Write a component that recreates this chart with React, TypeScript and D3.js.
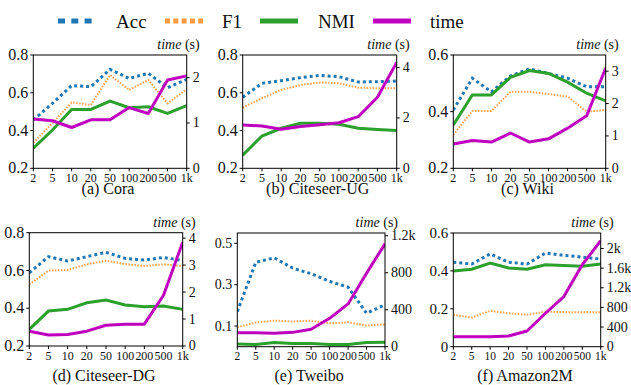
import * as d3 from 'd3'

// x categories (number of clusters / samples)
const xLabels = ['2', '5', '10', '20', '50', '100', '200', '500', '1k']

const coraAcc = [0.456, 0.544, 0.638, 0.632, 0.724, 0.676, 0.703, 0.627, 0.671]
const coraF1 = [0.336, 0.44, 0.549, 0.535, 0.694, 0.615, 0.668, 0.544, 0.618]
const coraNmi = [0.306, 0.403, 0.512, 0.512, 0.556, 0.521, 0.526, 0.491, 0.532]
const coraTime = [1.09, 1.05, 0.9, 1.07, 1.07, 1.34, 1.21, 1.95, 2.04]

const citeUgAcc = [0.576, 0.65, 0.664, 0.68, 0.692, 0.685, 0.657, 0.659, 0.662]
const citeUgF1 = [0.521, 0.571, 0.615, 0.641, 0.655, 0.65, 0.627, 0.624, 0.624]
const citeUgNmi = [0.27, 0.371, 0.412, 0.438, 0.438, 0.433, 0.412, 0.406, 0.4]
const citeUgTime = [1.72, 1.68, 1.55, 1.66, 1.73, 1.81, 2.05, 2.82, 4.2]

const wikiAcc = [0.406, 0.518, 0.47, 0.526, 0.551, 0.535, 0.518, 0.488, 0.488]
const wikiF1 = [0.318, 0.402, 0.402, 0.47, 0.47, 0.462, 0.453, 0.4, 0.406]
const wikiNmi = [0.353, 0.459, 0.459, 0.521, 0.545, 0.535, 0.504, 0.465, 0.438]
const wikiTime = [0.75, 0.86, 0.81, 1.09, 0.81, 0.91, 1.24, 1.62, 3.1]

const citeDgAcc = [0.588, 0.673, 0.65, 0.673, 0.696, 0.664, 0.655, 0.669, 0.652]
const citeDgF1 = [0.526, 0.599, 0.603, 0.632, 0.652, 0.634, 0.624, 0.632, 0.624]
const citeDgNmi = [0.288, 0.385, 0.394, 0.429, 0.443, 0.417, 0.408, 0.412, 0.394]
const citeDgTime = [0.55, 0.41, 0.43, 0.55, 0.77, 0.81, 0.81, 1.88, 3.85]

const tweiboAcc = [0.17, 0.408, 0.43, 0.38, 0.353, 0.316, 0.288, 0.162, 0.203]
const tweiboF1 = [0.094, 0.117, 0.126, 0.122, 0.126, 0.113, 0.118, 0.102, 0.108]
const tweiboNmi = [0.013, 0.011, 0.02, 0.016, 0.016, 0.011, 0.011, 0.02, 0.021]
const tweiboTime = [152, 152, 145, 155, 188, 307, 463, 795, 1113]

const amazonAcc = [0.446, 0.436, 0.49, 0.446, 0.436, 0.494, 0.482, 0.473, 0.462]
const amazonF1 = [0.168, 0.154, 0.189, 0.176, 0.168, 0.185, 0.182, 0.182, 0.182]
const amazonNmi = [0.4, 0.409, 0.441, 0.415, 0.409, 0.432, 0.429, 0.424, 0.436]
const amazonTime = [204, 204, 204, 218, 320, 681, 1021, 1668, 2158]

const captions = ['(a) Cora', '(b) Citeseer-UG', '(c) Wiki', '(d) Citeseer-DG', '(e) Tweibo', '(f) Amazon2M']

const leftTicks = [
  [0.2, 0.4, 0.6, 0.8],
  [0.2, 0.4, 0.6, 0.8],
  [0.2, 0.4, 0.6],
  [0.2, 0.4, 0.6, 0.8],
  [0.1, 0.3, 0.5],
  [0, 0.2, 0.4, 0.6]
]
const rightTicks = [
  [0, 1, 2],
  [0, 2, 4],
  [0, 1, 2, 3],
  [0, 1, 2, 3, 4],
  [0, 400, 800, 1200],
  [0, 400, 800, 1200, 1600, 2000]
]

const FONT = 'Liberation Serif'

const seriesStyle = [
  { name: 'Acc', color: '#1f77b4', width: 3, dash: '3,3', opacity: 1 },
  { name: 'F1', color: '#ff7f0e', width: 2, dash: '1.6,1.4', opacity: 0.7 },
  { name: 'NMI', color: '#2ca02c', width: 3, dash: undefined, opacity: 1 },
  { name: 'time', color: '#bf00bf', width: 3, dash: undefined, opacity: 1 }
]

const legendItems = [
  { x1: 58, x2: 92, tx: 116, dash: '7,6.3' },
  { x1: 165, x2: 203, tx: 222, dash: '5,3.3' },
  { x1: 260, x2: 298, tx: 318, dash: undefined },
  { x1: 373, x2: 411, tx: 430, dash: undefined }
]

const panels = [
  { acc: coraAcc, f1: coraF1, nmi: coraNmi, time: coraTime, left: [0.2, 0.8], right: [0, 2.5],
    box: { x0: 33.3, x1: 186.7, y0: 55, y1: 168.3 }, capY: 194, lFont: 16 },
  { acc: citeUgAcc, f1: citeUgF1, nmi: citeUgNmi, time: citeUgTime, left: [0.2, 0.8], right: [0, 4.5],
    box: { x0: 242.7, x1: 396.7, y0: 55, y1: 168.3 }, capY: 194, lFont: 16 },
  { acc: wikiAcc, f1: wikiF1, nmi: wikiNmi, time: wikiTime, left: [0.2, 0.6], right: [0, 3.5],
    box: { x0: 453.3, x1: 605.7, y0: 55, y1: 168.3 }, capY: 194, lFont: 16 },
  { acc: citeDgAcc, f1: citeDgF1, nmi: citeDgNmi, time: citeDgTime, left: [0.2, 0.8], right: [0, 4.2],
    box: { x0: 29.3, x1: 182.7, y0: 232.7, y1: 346 }, capY: 381, lFont: 16 },
  { acc: tweiboAcc, f1: tweiboF1, nmi: tweiboNmi, time: tweiboTime, left: [0, 0.55], right: [0, 1230],
    box: { x0: 237.3, x1: 385, y0: 233, y1: 346.7 }, capY: 381, lFont: 14 },
  { acc: amazonAcc, f1: amazonF1, nmi: amazonNmi, time: amazonTime, left: [0, 0.6], right: [0, 2315],
    box: { x0: 453.3, x1: 600.7, y0: 233, y1: 346.7 }, capY: 381, lFont: 15 }
]

const fmtLeft = (v: number) => (v === 0 ? '0' : d3.format('.1f')(v))
const fmtRight = (v: number) => (v >= 1000 ? `${+(v / 1000).toFixed(1)}k` : `${v}`)

function Panel({ p, idx }: { p: typeof panels[number]; idx: number }) {
  const { x0, x1, y0, y1 } = p.box
  const xScale = d3.scalePoint<string>().domain(xLabels).range([x0, x1]).padding(0)
  const yLeft = d3.scaleLinear().domain(p.left).range([y1, y0])
  const yRight = d3.scaleLinear().domain(p.right).range([y1, y0])
  const lineLeft = d3.line<number>().x((_, i) => xScale(xLabels[i]) || 0).y(d => yLeft(d))
  const lineRight = d3.line<number>().x((_, i) => xScale(xLabels[i]) || 0).y(d => yRight(d))
  // the three-digit labels nearly touch in the original; keep them just apart
  const xFont = Math.min(12.5, xScale.step() / 1.5 - 0.8)
  const clipId = `clip-${idx}`

  return (
    <g>
      <defs>
        <clipPath id={clipId}>
          <rect x={x0} y={y0 - 2} width={x1 - x0} height={y1 - y0 + 2} />
        </clipPath>
      </defs>
      <g clipPath={`url(#${clipId})`}>
        {[p.acc, p.f1, p.nmi].map((vals, i) => (
          <path key={i} d={lineLeft(vals) || ''} fill="none" stroke={seriesStyle[i].color}
            strokeOpacity={seriesStyle[i].opacity} strokeWidth={seriesStyle[i].width}
            strokeDasharray={seriesStyle[i].dash} />
        ))}
        <path d={lineRight(p.time) || ''} fill="none" stroke={seriesStyle[3].color}
          strokeWidth={seriesStyle[3].width} strokeLinejoin="round" />
      </g>
      <rect x={x0} y={y0} width={x1 - x0} height={y1 - y0} fill="none" stroke="#000" strokeWidth={1} />

      {/* x axis */}
      {xLabels.map(l => (
        <g key={l} transform={`translate(${xScale(l)},${y1})`}>
          <line y2={3} stroke="#000" />
          <text y={5} dy="0.71em" textAnchor="middle" fill="#111" style={{ fontFamily: FONT, fontSize: xFont }}>{l}</text>
        </g>
      ))}
      {/* left axis */}
      {leftTicks[idx].map(v => (
        <g key={v} transform={`translate(${x0},${yLeft(v)})`}>
          <line x2={-3} stroke="#000" />
          <text x={-5} dy="0.32em" textAnchor="end" fill="#111" style={{ fontFamily: FONT, fontSize: p.lFont }}>{fmtLeft(v)}</text>
        </g>
      ))}
      {/* right axis */}
      {rightTicks[idx].map(v => (
        <g key={v} transform={`translate(${x1},${yRight(v)})`}>
          <line x2={3} stroke="#000" />
          <text x={6} dy="0.32em" fill="#111" style={{ fontFamily: FONT, fontSize: 14 }}>{fmtRight(v)}</text>
        </g>
      ))}

      <text x={x1 + 13} y={y0 - 6} textAnchor="end" fill="#111" style={{ fontFamily: FONT, fontSize: 14 }}>
        <tspan style={{ fontStyle: 'italic' }}>time</tspan>
        <tspan> (s)</tspan>
      </text>

      <text x={(x0 + x1) / 2 - 2} y={p.capY} textAnchor="middle" fill="#111" style={{ fontFamily: FONT, fontSize: 16 }}>
        {captions[idx]}
      </text>
    </g>
  )
}

export default function App() {
  return (
    <div style={{ position: 'absolute', left: 0, top: 0 }}>
      <svg width={631} height={385} style={{ display: 'block', background: '#fff' }}>
        {legendItems.map((it, i) => (
          <g key={i}>
            <line x1={it.x1} x2={it.x2} y1={21} y2={21} stroke={seriesStyle[i].color}
              strokeOpacity={seriesStyle[i].opacity === 1 ? 1 : 0.8} strokeWidth={5} strokeDasharray={it.dash} />
            <text x={it.tx} y={28} fill="#111" style={{ fontFamily: FONT, fontSize: 19 }}>{seriesStyle[i].name}</text>
          </g>
        ))}
        {panels.map((p, i) => <Panel key={i} p={p} idx={i} />)}
      </svg>
    </div>
  )
}
